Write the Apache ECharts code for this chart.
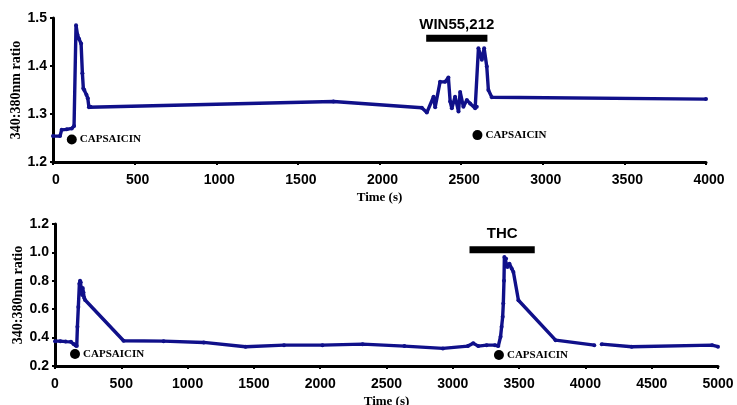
<!DOCTYPE html>
<html><head><meta charset="utf-8">
<script src="https://cdn.jsdelivr.net/npm/echarts@6/dist/echarts.min.js"></script>
<style>html,body{margin:0;padding:0;background:#fff}#c{width:737px;height:405px}</style>
</head><body><div id="c"></div>
<script>
// ---- Top panel (WIN55,212) ----
const topTime  = [0, 43, 53, 84, 115, 129, 141, 150, 160, 172, 180, 186, 192, 205, 213, 220, 230, 1718, 2259, 2290, 2331, 2341, 2371, 2402, 2422, 2433, 2443, 2463, 2484, 2494, 2514, 2535, 2555, 2586, 2596, 2606, 2627, 2641, 2657, 2667, 2688, 4000];
const topRatio = [1.254, 1.254, 1.267, 1.268, 1.270, 1.275, 1.485, 1.465, 1.456, 1.447, 1.385, 1.353, 1.350, 1.340, 1.333, 1.314, 1.315, 1.326, 1.313, 1.303, 1.336, 1.314, 1.367, 1.367, 1.376, 1.326, 1.312, 1.336, 1.305, 1.346, 1.315, 1.329, 1.322, 1.312, 1.315, 1.437, 1.413, 1.437, 1.399, 1.350, 1.335, 1.331];
const topXTicks = [0, 500, 1000, 1500, 2000, 2500, 3000, 3500, 4000];
const topYTicks = [1.2, 1.3, 1.4, 1.5];
const winBarTime = [2286, 2661];
const winBarLevel = 1.458;
const winLabel = 'WIN55,212';
const topCapsTime = [115, 2600];
const topCapsLevel = [1.247, 1.256];

// ---- Bottom panel (THC) ----
const botTime  = [0, 40, 80, 120, 140, 155, 164, 169, 176, 184, 189, 194, 200, 205, 209, 214, 220, 227, 517, 819, 1122, 1437, 1727, 2017, 2320, 2635, 2925, 3113, 3154, 3192, 3255, 3318, 3343, 3360, 3368, 3376, 3381, 3386, 3389, 3402, 3412, 3427, 3444, 3457, 3495, 3775, 4067, 4095, 4123, 4349, 4955, 5000];
const botRatio = [0.375, 0.375, 0.372, 0.370, 0.355, 0.345, 0.340, 0.476, 0.616, 0.78, 0.80, 0.79, 0.74, 0.70, 0.75, 0.72, 0.68, 0.665, 0.378, 0.375, 0.366, 0.336, 0.347, 0.347, 0.354, 0.340, 0.324, 0.340, 0.360, 0.340, 0.347, 0.347, 0.340, 0.406, 0.476, 0.546, 0.640, 0.800, 0.967, 0.956, 0.897, 0.920, 0.886, 0.862, 0.663, 0.382, 0.347, null, 0.354, 0.336, 0.347, 0.336];
const botXTicks = [0, 500, 1000, 1500, 2000, 2500, 3000, 3500, 4000, 4500, 5000];
const botYTicks = [0.2, 0.4, 0.6, 0.8, 1.0, 1.2];
const thcBarTime = [3126, 3618];
const thcBarLevel = 1.018;
const thcLabel = 'THC';
const botCapsTime = [151, 3348];
const botCapsLevel = [0.284, 0.277];

const capsText = 'CAPSAICIN';
const yTitle = '340:380nm ratio';
const xTitle = 'Time (s)';

const LINE = '#10108a';
const SANS = 'Liberation Sans, Arial, sans-serif';
const SERIF = 'Liberation Serif, Times New Roman, serif';

function pairs(xs, ys) { return xs.map((x, i) => [x, ys[i] == null ? '-' : ys[i]]); }

function xAxisCfg(idx, ticks, labelPad) {
  return {
    type: 'value', gridIndex: idx,
    min: ticks[0], max: ticks[ticks.length - 1], interval: ticks[1] - ticks[0],
    name: xTitle, nameLocation: 'middle', nameGap: 29,
    nameTextStyle: { fontFamily: SERIF, fontWeight: 'bold', fontSize: 13, color: '#000' },
    axisLine: { show: true, onZero: false, lineStyle: { color: '#000', width: 3 } },
    axisTick: { show: true, length: 3, lineStyle: { color: '#000', width: 2 } },
    axisLabel: { color: '#000', fontFamily: SANS, fontWeight: 'bold', fontSize: 14, margin: 11, padding: labelPad,
      formatter: v => String(v) },
    splitLine: { show: false }
  };
}
function yAxisCfg(idx, ticks, dec) {
  return {
    type: 'value', gridIndex: idx,
    min: ticks[0], max: ticks[ticks.length - 1], interval: +(ticks[1] - ticks[0]).toFixed(2),
    name: yTitle, nameLocation: 'middle', nameRotate: 90, nameGap: 30, nameMoveOverlap: false,
    nameTextStyle: { fontFamily: SERIF, fontWeight: 'bold', fontSize: 14, color: '#000' },
    axisLine: { show: true, onZero: false, lineStyle: { color: '#000', width: 3 } },
    axisTick: { show: true, length: 3, lineStyle: { color: '#000', width: 2 } },
    axisLabel: { color: '#000', fontFamily: SANS, fontWeight: 'bold', fontSize: 14, margin: 6,
      formatter: v => v.toFixed(dec) },
    splitLine: { show: false }
  };
}
function traceSeries(idx, data) {
  return {
    type: 'line', xAxisIndex: idx, yAxisIndex: idx, data: data,
    connectNulls: false, showAllSymbol: true,
    symbol: 'circle', symbolSize: 4,
    itemStyle: { color: LINE, opacity: 1 }, lineStyle: { color: LINE, width: 3.4 },
    animation: false, z: 3
  };
}
function barSeries(idx, times, level, text, dist) {
  return [{
    type: 'line', xAxisIndex: idx, yAxisIndex: idx,
    data: times.map(t => [t, level]), symbol: 'none',
    lineStyle: { color: '#000', width: 7, cap: 'butt' }, animation: false, z: 4
  }, {
    type: 'scatter', xAxisIndex: idx, yAxisIndex: idx,
    data: [[(times[0] + times[1]) / 2, level]], symbolSize: 0,
    itemStyle: { opacity: 1 },
    label: { show: true, position: 'top', distance: dist, formatter: text,
      fontFamily: SANS, fontWeight: 'bold', fontSize: 15, color: '#000', opacity: 1 },
    animation: false, silent: true
  }];
}
function capsSeries(idx, times, levels) {
  return {
    type: 'scatter', xAxisIndex: idx, yAxisIndex: idx,
    data: times.map((t, i) => [t, levels[i]]), symbol: 'circle', symbolSize: 10,
    itemStyle: { color: '#000', opacity: 1 },
    label: { show: true, position: 'right', distance: 3, formatter: capsText,
      fontFamily: SERIF, fontWeight: 'bold', fontSize: 11, color: '#000', opacity: 1 },
    animation: false, z: 5
  };
}

const chart = echarts.init(document.getElementById('c'), null, { renderer: 'canvas' });
chart.setOption({
  backgroundColor: '#fff',
  animation: false,
  grid: [
    { left: 53, right: 31, top: 18, height: 144, containLabel: false, outerBoundsMode: 'none' },
    { left: 55, right: 19, top: 224, height: 142, containLabel: false, outerBoundsMode: 'none' }
  ],
  xAxis: [xAxisCfg(0, topXTicks, [0, 0, 0, 6]), xAxisCfg(1, botXTicks, [0, 0, 0, 0])],
  yAxis: [yAxisCfg(0, topYTicks, 1), yAxisCfg(1, botYTicks, 1)],
  series: [
    traceSeries(0, pairs(topTime, topRatio)),
    ...barSeries(0, winBarTime, winBarLevel, winLabel, 6),
    capsSeries(0, topCapsTime, topCapsLevel),
    traceSeries(1, pairs(botTime, botRatio)),
    ...barSeries(1, thcBarTime, thcBarLevel, thcLabel, 8),
    capsSeries(1, botCapsTime, botCapsLevel)
  ]
});
</script>
</body></html>
